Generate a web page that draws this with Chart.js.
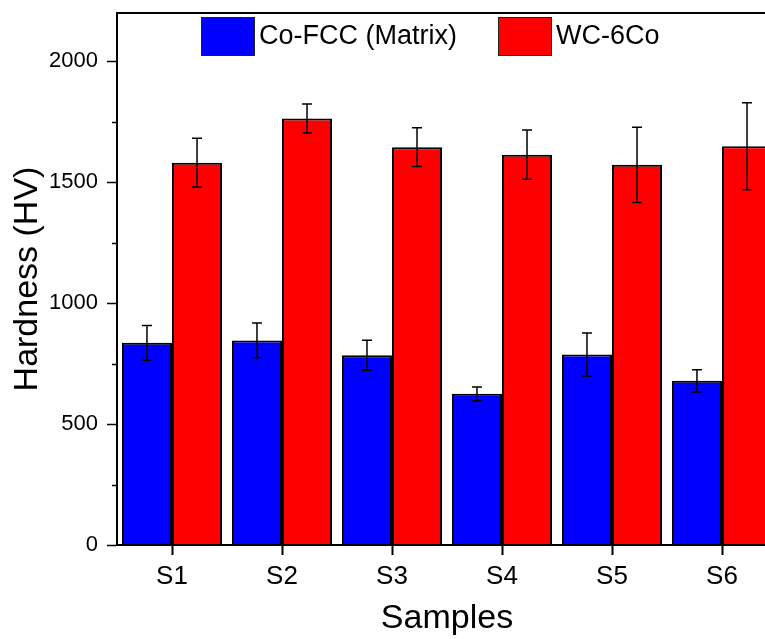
<!DOCTYPE html>
<html>
<head>
<meta charset="utf-8">
<script src="https://cdn.jsdelivr.net/npm/chart.js@4"></script>
<style>
    html, body { margin: 0; padding: 0; background: #fff; overflow: hidden; }
    #wrap { position: absolute; left: 0; top: 0; width: 790px; height: 639px; }
</style>
</head>
<body>
<div id="wrap"><canvas id="hardnessChart" width="790" height="639"></canvas></div>
<script>
// Data
const samples = ['S1', 'S2', 'S3', 'S4', 'S5', 'S6'];
const coFcc = [836, 846, 785, 625, 788, 679];
const coFccErr = [72, 72, 62, 28, 89, 46];
const wc6co = [1581, 1764, 1645, 1614, 1572, 1649];
const wc6coErr = [101, 60, 80, 102, 156, 180];
const yTicks = [0, 500, 1000, 1500, 2000];

const FONT = "'Liberation Sans', Arial, sans-serif";

// frame, minor ticks, error bars, legend inside the box
const decorations = {
    id: 'decorations',
    afterDatasetsDraw(chart) {
        const ctx = chart.ctx;
        const area = chart.chartArea;
        const y = chart.scales.y;
        const errs = [coFccErr, wc6coErr];

        // error bars
        ctx.save();
        ctx.strokeStyle = '#000';
        ctx.lineWidth = 1.5;
        chart.data.datasets.forEach((ds, i) => {
            chart.getDatasetMeta(i).data.forEach((bar, j) => {
                const v = ds.data[j];
                const top = y.getPixelForValue(v + errs[i][j]);
                const bot = y.getPixelForValue(v - errs[i][j]);
                ctx.beginPath();
                ctx.moveTo(bar.x, top); ctx.lineTo(bar.x, bot);
                ctx.moveTo(bar.x - 5, top); ctx.lineTo(bar.x + 5, top);
                ctx.moveTo(bar.x - 5, bot); ctx.lineTo(bar.x + 5, bot);
                ctx.stroke();
            });
        });
        ctx.restore();

        // box
        ctx.save();
        ctx.strokeStyle = '#000';
        ctx.lineWidth = 2;
        ctx.strokeRect(area.left, area.top, area.right - area.left, area.bottom - area.top);

        // minor y ticks
        ctx.lineWidth = 1.5;
        for (let v = 250; v < 2200; v += 500) {
            const py = Math.round(y.getPixelForValue(v)) + 0.5;
            ctx.beginPath();
            ctx.moveTo(area.left - 5, py);
            ctx.lineTo(area.left, py);
            ctx.stroke();
        }
        ctx.restore();

        // legend
        ctx.save();
        const items = [{ x: 201 }, { x: 498 }];
        ctx.font = '27px ' + FONT;
        ctx.textBaseline = 'middle';
        chart.data.datasets.forEach((ds, i) => {
            const bx = items[i].x;
            ctx.fillStyle = ds.backgroundColor;
            ctx.fillRect(bx, 17, 53, 38);
            ctx.strokeStyle = '#222';
            ctx.lineWidth = 1;
            ctx.strokeRect(bx + 0.5, 17.5, 53, 38);
            ctx.fillStyle = '#000';
            ctx.fillText(ds.label, bx + 58, 37);
        });
        ctx.restore();
    }
};

new Chart(document.getElementById('hardnessChart'), {
    type: 'bar',
    data: {
        labels: samples,
        datasets: [{
            label: 'Co-FCC (Matrix)',
            data: coFcc,
            backgroundColor: '#0000FF',
            borderColor: '#000',
            borderWidth: 2,
            categoryPercentage: 0.91,
            barPercentage: 1.0
        }, {
            label: 'WC-6Co',
            data: wc6co,
            backgroundColor: '#FF0000',
            borderColor: '#000',
            borderWidth: 2,
            categoryPercentage: 0.91,
            barPercentage: 1.0
        }]
    },
    options: {
        responsive: false,
        animation: false,
        layout: { padding: { top: 13, right: 13, left: 0, bottom: 0 } },
        plugins: {
            legend: { display: false },
            tooltip: { enabled: false }
        },
        scales: {
            x: {
                grid: {
                    display: true,
                    offset: false,
                    drawOnChartArea: false,
                    drawTicks: true,
                    tickLength: 10,
                    tickWidth: 2,
                    tickColor: '#000'
                },
                border: { display: true, color: '#000', width: 2 },
                ticks: {
                    color: '#000',
                    padding: 6,
                    font: { family: FONT, size: 26 }
                },
                title: {
                    display: true,
                    text: 'Samples',
                    color: '#000',
                    padding: { top: 0, bottom: 0 },
                    font: { family: FONT, size: 34 }
                },
                afterFit: function(scale) { scale.height = 94; }
            },
            y: {
                min: 0,
                max: 2200,
                afterBuildTicks: function(axis) {
                    axis.ticks = yTicks.map(v => ({ value: v }));
                },
                grid: {
                    display: true,
                    drawOnChartArea: false,
                    drawTicks: true,
                    tickLength: 10,
                    tickWidth: 1.5,
                    tickColor: '#000'
                },
                border: { display: true, color: '#000', width: 2 },
                ticks: {
                    color: '#000',
                    padding: 9,
                    font: { family: FONT, size: 22 },
                    callback: function(value) { return String(value); }
                },
                title: {
                    display: true,
                    text: 'Hardness (HV)',
                    color: '#000',
                    padding: { top: 7, bottom: 0 },
                    font: { family: FONT, size: 34 }
                },
                afterFit: function(scale) {
                    scale.width = 117;
                    scale.paddingTop = 0;
                }
            }
        }
    },
    plugins: [decorations]
});
</script>
</body>
</html>
